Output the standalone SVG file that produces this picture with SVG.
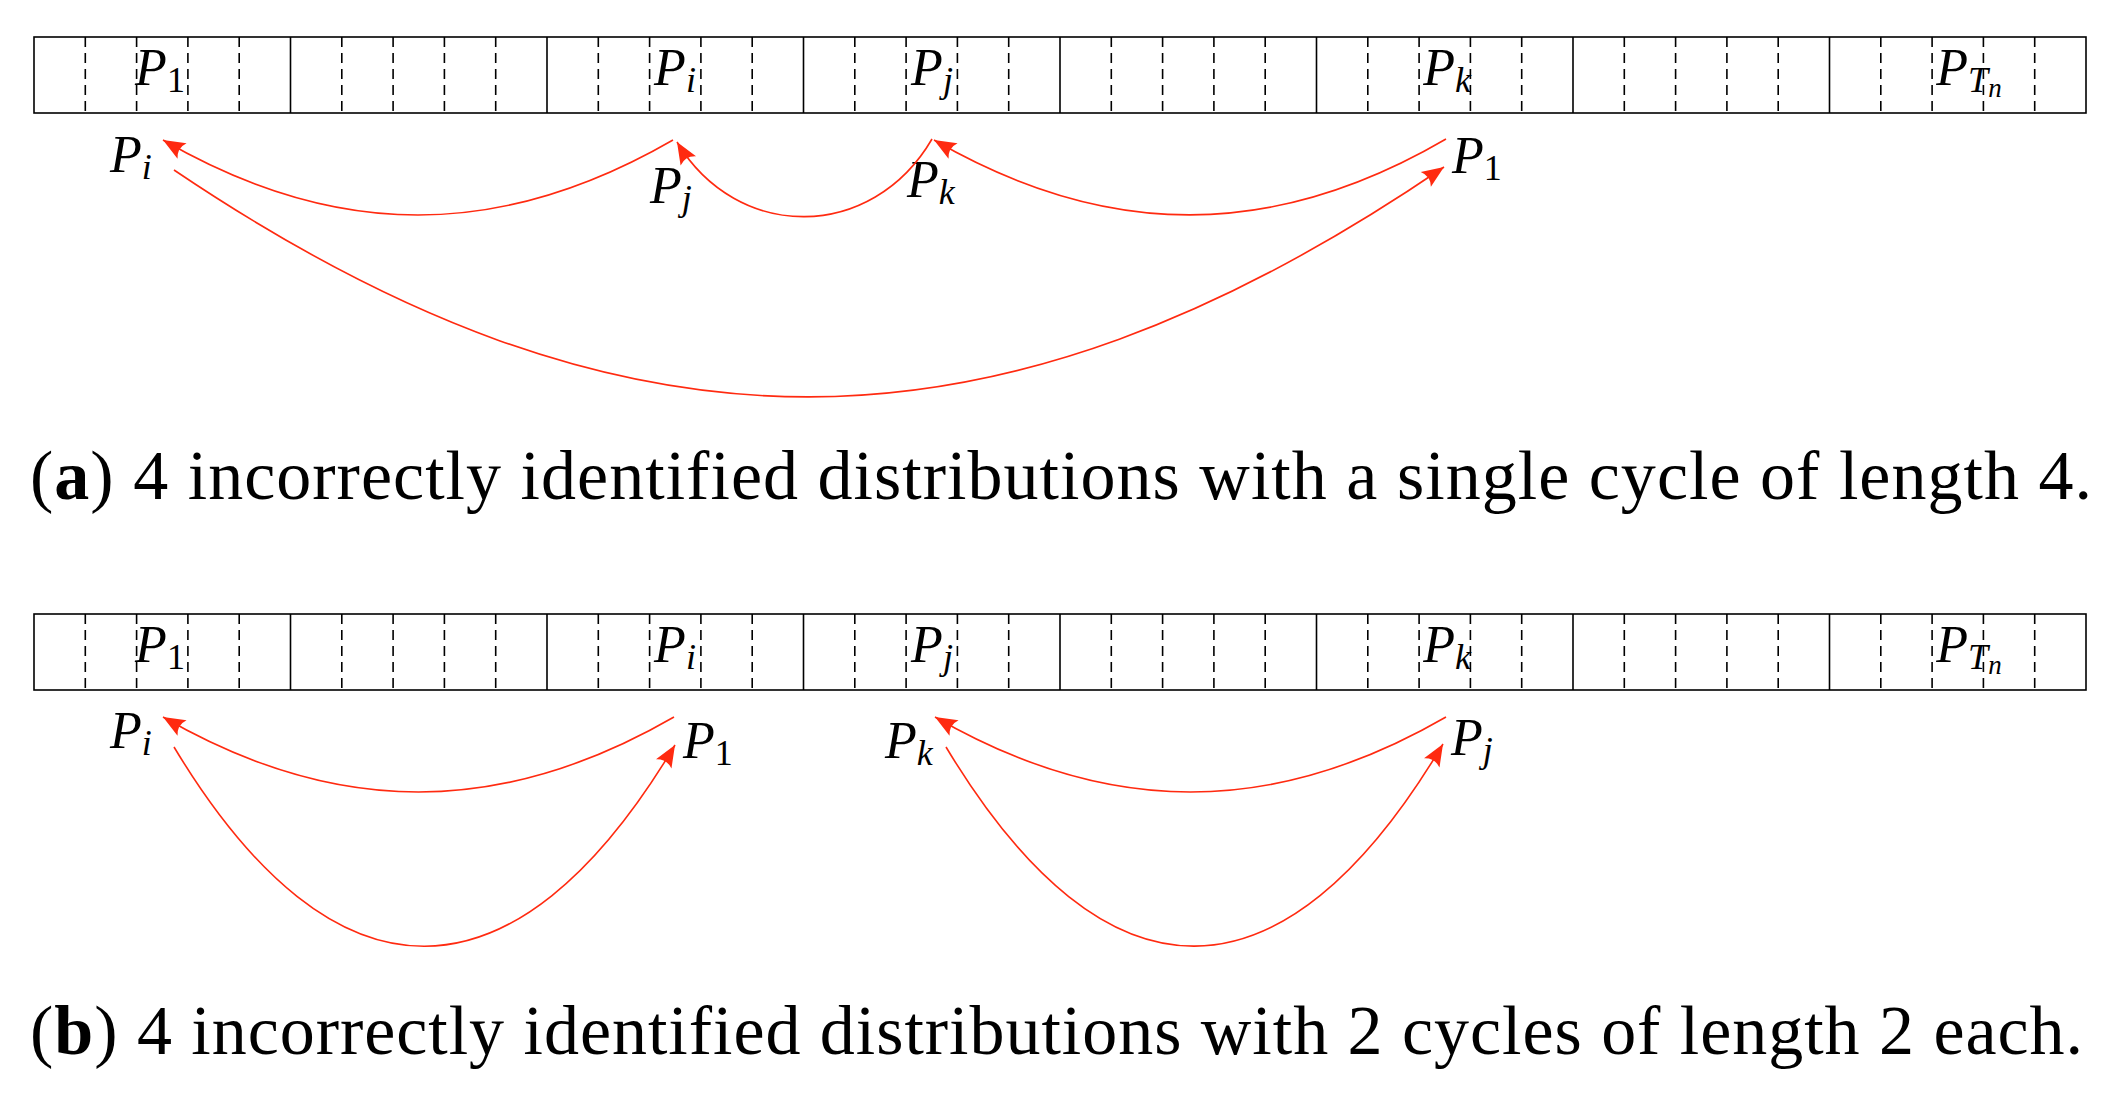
<svg xmlns="http://www.w3.org/2000/svg" width="2124" height="1095" viewBox="0 0 2124 1095">
<style>
.bar{fill:none;stroke:#000;stroke-width:1.6}
.sep{stroke:#000;stroke-width:1.6}
.dash{stroke:#000;stroke-width:1.6;stroke-dasharray:10 6}
.arc{fill:none;stroke:#ff2a10;stroke-width:1.6}
.lbl{font-family:'Liberation Serif','Times New Roman',serif;font-size:52px;fill:#000}
.it{font-style:italic}
.sub{font-size:36px}
.subsub{font-size:27px}
.cap{font-family:'Liberation Serif','Times New Roman',serif;font-size:70px;fill:#000}
</style>
<defs>
<marker id="ah" viewBox="-24 -11 26 22" refX="0" refY="0" markerWidth="26" markerHeight="22" markerUnits="userSpaceOnUse" orient="auto">
<path d="M0,0 L-22,-9 Q-16,0 -22,9 Z" fill="#ff2a10"/>
</marker>
<g id="strip">
<rect class="bar" x="34" y="0" width="2052" height="76"/>
<path class="sep" d="M290.5,0V76M547,0V76M803.5,0V76M1060,0V76M1316.5,0V76M1573,0V76M1829.5,0V76"/>
<path class="dash" d="M85.3,0V76M136.6,0V76M187.9,0V76M239.2,0V76M341.8,0V76M393.1,0V76M444.4,0V76M495.7,0V76M598.3,0V76M649.6,0V76M700.9,0V76M752.2,0V76M854.8,0V76M906.1,0V76M957.4,0V76M1008.7,0V76M1111.3,0V76M1162.6,0V76M1213.9,0V76M1265.2,0V76M1367.8,0V76M1419.1,0V76M1470.4,0V76M1521.7,0V76M1624.3,0V76M1675.6,0V76M1726.9,0V76M1778.2,0V76M1880.8,0V76M1932.1,0V76M1983.4,0V76M2034.7,0V76"/>
<text class="lbl" x="160" y="48" text-anchor="middle"><tspan class="it">P</tspan><tspan class="sub" dy="7">1</tspan></text>
<text class="lbl" x="675" y="48" text-anchor="middle"><tspan class="it">P</tspan><tspan class="sub it" dy="7">i</tspan></text>
<text class="lbl" x="932" y="48" text-anchor="middle"><tspan class="it">P</tspan><tspan class="sub it" dy="7">j</tspan></text>
<text class="lbl" x="1447" y="48" text-anchor="middle"><tspan class="it">P</tspan><tspan class="sub it" dy="7">k</tspan></text>
<text class="lbl" x="1969" y="48" text-anchor="middle"><tspan class="it">P</tspan><tspan class="sub it" dy="7">T</tspan><tspan class="subsub it" dy="5">n</tspan></text>
</g>
</defs>

<g id="figure-a">
<use id="bar-a" href="#strip" x="0" y="37"/>
<g id="a-Pi"><text class="lbl" x="110" y="172"><tspan class="it">P</tspan><tspan class="sub it" dy="7">i</tspan></text></g>
<g id="a-Pj"><text class="lbl" x="650" y="203"><tspan class="it">P</tspan><tspan class="sub it" dy="7">j</tspan></text></g>
<g id="a-Pk"><text class="lbl" x="907" y="197"><tspan class="it">P</tspan><tspan class="sub it" dy="7">k</tspan></text></g>
<g id="a-P1"><text class="lbl" x="1452" y="173"><tspan class="it">P</tspan><tspan class="sub" dy="7">1</tspan></text></g>
<g id="a-connectors">
<path class="arc" marker-end="url(#ah)" d="M673,140 C500,240 336,240 163,140"/>
<path class="arc" marker-end="url(#ah)" d="M932,139 C872,242 737,242 677,142"/>
<path class="arc" marker-end="url(#ah)" d="M1446,139 C1273,240 1107,240 934,140"/>
<path class="arc" marker-end="url(#ah)" d="M174,170 C623,473 995,473 1444,167"/>
</g>
<text id="caption-a" class="cap" x="30" y="499" textLength="2062"><tspan>(</tspan><tspan font-weight="bold">a</tspan><tspan>) 4 incorrectly identified distributions with a single cycle of length 4.</tspan></text>
</g>

<g id="figure-b">
<use id="bar-b" href="#strip" x="0" y="614"/>
<g id="b-Pi"><text class="lbl" x="110" y="748"><tspan class="it">P</tspan><tspan class="sub it" dy="7">i</tspan></text></g>
<g id="b-P1"><text class="lbl" x="683" y="758"><tspan class="it">P</tspan><tspan class="sub" dy="7">1</tspan></text></g>
<g id="b-Pk"><text class="lbl" x="885" y="758"><tspan class="it">P</tspan><tspan class="sub it" dy="7">k</tspan></text></g>
<g id="b-Pj"><text class="lbl" x="1451" y="755"><tspan class="it">P</tspan><tspan class="sub it" dy="7">j</tspan></text></g>
<g id="b-connectors">
<path class="arc" marker-end="url(#ah)" d="M674,717 C501,817 336,817 163,717"/>
<path class="arc" marker-end="url(#ah)" d="M174,747 C334,1013 515,1013 675,745"/>
<path class="arc" marker-end="url(#ah)" d="M1446,717 C1273,817 1108,817 935,717"/>
<path class="arc" marker-end="url(#ah)" d="M946,747 C1106,1013 1283,1013 1443,744"/>
</g>
<text id="caption-b" class="cap" x="30" y="1054" textLength="2053"><tspan>(</tspan><tspan font-weight="bold">b</tspan><tspan>) 4 incorrectly identified distributions with 2 cycles of length 2 each.</tspan></text>
</g>
</svg>
